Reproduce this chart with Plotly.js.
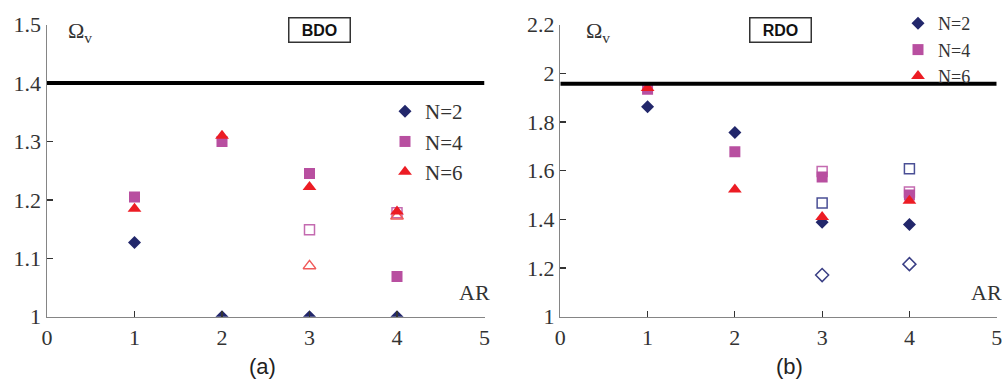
<!DOCTYPE html>
<html>
<head>
<meta charset="utf-8">
<script src="https://cdn.plot.ly/plotly-3.0.1.min.js"></script>
<style>html,body{margin:0;padding:0;background:#fff;}#chart{width:1002px;height:381px;}</style>
</head>
<body>
<div id="chart"></div>
<script>
// ---- data ----
const arValues = [1, 2, 3, 4];
const arOpen = [3, 4];
const tickLabelsX = ['0', '1', '2', '3', '4', '5'];
const tickValsX = [0, 1, 2, 3, 4, 5];

// BDO (a)
const bdoN2 = [1.127, 1.0, 1.0, 1.0];
const bdoN4 = [1.205, 1.30, 1.245, 1.069];
const bdoN6 = [1.185, 1.31, 1.222, 1.18];
const bdoOpenN4 = [1.149, 1.178];
const bdoOpenN6 = [1.087, 1.172];
const bdoLimit = 1.4;

// RDO (b)
const rdoN2 = [1.863, 1.757, 1.388, 1.379];
const rdoN4 = [1.935, 1.678, 1.574, 1.50];
const rdoN6 = [1.94, 1.523, 1.41, 1.476];
const rdoOpenN2 = [1.171, 1.216];
const rdoOpenSqNavy = [1.467, 1.608];
const rdoOpenN4 = [1.597, 1.512];
const rdoLimit = 1.957;

const navy = '#22276b', magenta = '#b84fa0', red = '#ec1c24';
const serif = 'Liberation Serif, Times New Roman, serif';
const sans = 'Liberation Sans, Arial, sans-serif';

function filled(x, y, sym, color, size, name, xa, ya, leg) {
  return {x: x, y: y, type: 'scatter', mode: 'markers', name: name, xaxis: xa, yaxis: ya,
    legend: leg, showlegend: true, legendgroup: name + leg,
    marker: {symbol: sym, color: color, size: size, line: {width: 0}}};
}
function open(x, y, sym, color, size, xa, ya) {
  return {x: x, y: y, type: 'scatter', mode: 'markers', xaxis: xa, yaxis: ya, showlegend: false,
    marker: {symbol: sym, color: 'rgba(255,255,255,0)', size: size, line: {width: 1.5, color: color}}};
}

const traces = [
  open(arOpen, bdoOpenN4, 'square', '#c46ab0', 10, 'x', 'y'),
  open(arOpen, bdoOpenN6, 'triangle-up', '#f05a5a', 11, 'x', 'y'),
  filled(arValues, bdoN2, 'diamond', navy, 10, 'N=2', 'x', 'y', 'legend'),
  filled(arValues, bdoN4, 'square', magenta, 11, 'N=4', 'x', 'y', 'legend'),
  filled(arValues, bdoN6, 'triangle-up', red, 12, 'N=6', 'x', 'y', 'legend'),

  open(arOpen, rdoOpenN2, 'diamond', '#3a3f85', 10, 'x2', 'y2'),
  open(arOpen, rdoOpenSqNavy, 'square', '#4a4f95', 10, 'x2', 'y2'),
  open(arOpen, rdoOpenN4, 'square', '#c46ab0', 10, 'x2', 'y2'),
  filled(arValues, rdoN2, 'diamond', navy, 10, 'N=2', 'x2', 'y2', 'legend2'),
  filled(arValues, rdoN4, 'square', magenta, 11, 'N=4', 'x2', 'y2', 'legend2'),
  filled(arValues, rdoN6, 'triangle-up', red, 12, 'N=6', 'x2', 'y2', 'legend2')
];

const axisCommon = {
  showgrid: false, zeroline: false, showline: true, linecolor: '#858585', linewidth: 1.5,
  ticks: 'inside', ticklen: 6, tickwidth: 1.2, tickcolor: '#333', ticklabeloverflow: 'allow',
  tickfont: {family: serif, size: 22, color: '#333'}, fixedrange: true
};
const W = 1002, H = 381;
const yDom = [1 - 316.7 / H, 1 - 24.7 / H];

function note(text, px, py, font) {
  return {text: text, xref: 'paper', yref: 'paper', x: px / W, y: 1 - py / H,
    xanchor: 'center', yanchor: 'middle', showarrow: false, font: font};
}
function box(text, px, py) {
  return Object.assign(note('<b>' + text + '</b>', px, py, {family: sans, size: 16, color: '#111'}),
    {bordercolor: '#333', borderwidth: 1.5, borderpad: 0, width: 60, height: 23, bgcolor: '#fff'});
}
const serifFont = {family: serif, size: 22, color: '#333'};
const sansFont = {family: sans, size: 22, color: '#222'};

const layout = {
  width: W, height: H,
  margin: {l: 0, r: 0, t: 0, b: 0},
  paper_bgcolor: '#fff', plot_bgcolor: 'rgba(0,0,0,0)',
  showlegend: true,
  xaxis: Object.assign({}, axisCommon, {domain: [47 / W, 484.5 / W], range: [0, 5], tickvals: tickValsX, ticktext: tickLabelsX, anchor: 'y'}),
  yaxis: Object.assign({}, axisCommon, {domain: yDom, range: [1, 1.5], dtick: 0.1, tick0: 1, anchor: 'x'}),
  xaxis2: Object.assign({}, axisCommon, {domain: [560.3 / W, 996.7 / W], range: [0, 5], tickvals: tickValsX, ticktext: tickLabelsX, anchor: 'y2'}),
  yaxis2: Object.assign({}, axisCommon, {domain: yDom, range: [1, 2.2], dtick: 0.2, tick0: 1, anchor: 'x2'}),
  legend: {x: 385 / W, y: 1 - 91 / H, xanchor: 'left', yanchor: 'top', bgcolor: 'rgba(0,0,0,0)',
    font: {family: serif, size: 21, color: '#333'}, traceorder: 'grouped', tracegroupgap: 0, itemwidth: 30},
  legend2: {x: 898 / W, y: 1 - 5 / H, xanchor: 'left', yanchor: 'top', bgcolor: 'rgba(0,0,0,0)',
    font: {family: serif, size: 18, color: '#333'}, traceorder: 'grouped', tracegroupgap: 0, itemwidth: 30},
  shapes: [
    {type: 'line', xref: 'x', yref: 'y', x0: 0, x1: 5, y0: bdoLimit, y1: bdoLimit, line: {color: '#000', width: 4}},
    {type: 'line', xref: 'x2', yref: 'y2', x0: 0, x1: 5, y0: rdoLimit, y1: rdoLimit, line: {color: '#000', width: 4}}
  ],
  annotations: [
    box('BDO', 319.5, 30),
    box('RDO', 780, 30),
    note('Ω<sub>v</sub>', 80, 32, serifFont),
    note('Ω<sub>v</sub>', 598, 32, serifFont),
    note('AR', 474, 292, serifFont),
    note('AR', 986, 292, serifFont),
    note('(a)', 262, 366, sansFont),
    note('(b)', 789, 366, sansFont)
  ]
};

Plotly.newPlot('chart', traces, layout, {displayModeBar: false, staticPlot: true});
</script>
</body>
</html>
